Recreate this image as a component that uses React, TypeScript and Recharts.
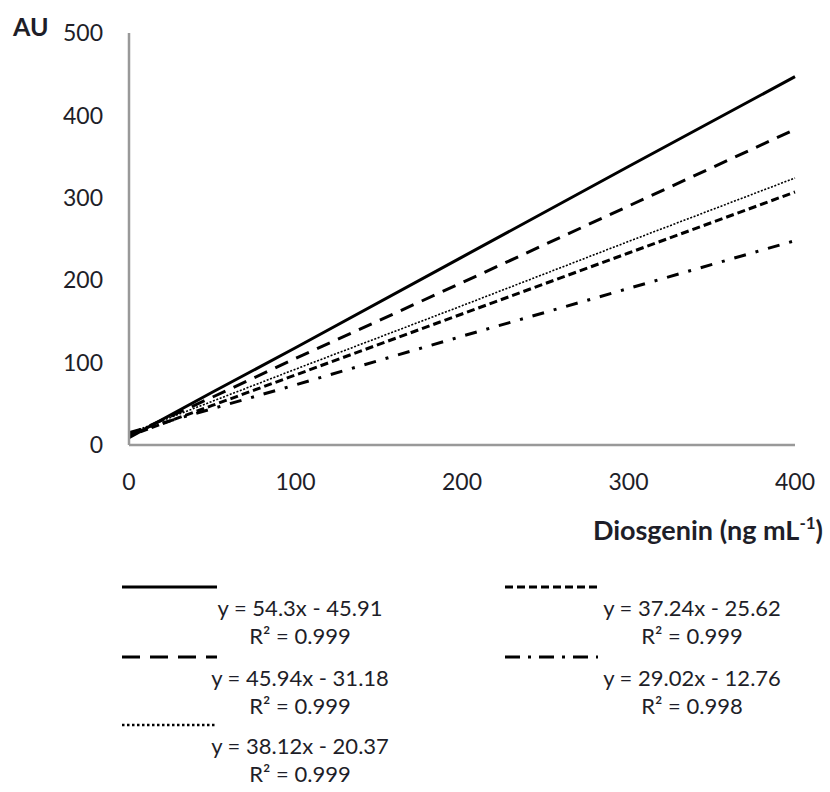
import React from "react";
import { LineChart, Line, XAxis, YAxis } from "recharts";

const xValues = [0, 50, 100, 200, 300, 400];
const seriesA = [9, 64, 118, 228, 338, 447];
const seriesB = [12, 58, 105, 197, 290, 383];
const seriesC = [14, 53, 92, 169, 247, 324];
const seriesD = [11, 48, 85, 159, 233, 307];
const seriesE = [15, 44, 73, 132, 190, 248];

const xTicks = [0, 100, 200, 300, 400];
const yTicks = [0, 100, 200, 300, 400, 500];

const yAxisTitle = "AU";
const xAxisTitle = "Diosgenin (ng mL";
const xAxisTitleSup = "-1";

const legendLeft = [
  { eq: "y = 54.3x - 45.91", r2: "R² = 0.999", dash: "" },
  { eq: "y = 45.94x - 31.18", r2: "R² = 0.999", dash: "18 10" },
  { eq: "y = 38.12x - 20.37", r2: "R² = 0.999", dash: "2.5 2.5" },
];
const legendRight = [
  { eq: "y = 37.24x - 25.62", r2: "R² = 0.999", dash: "8 4" },
  { eq: "y = 29.02x - 12.76", r2: "R² = 0.998", dash: "15 8 3 8" },
];

const data = xValues.map((x, i) => ({
  x,
  a: seriesA[i],
  b: seriesB[i],
  c: seriesC[i],
  d: seriesD[i],
  e: seriesE[i],
}));

const FONT = "Lato, 'Open Sans', sans-serif";
const TEXT = "#1e1e28";

export default function App() {
  const rowStarts = [587, 657, 725];
  const renderEntry = (
    item: { eq: string; r2: string; dash: string },
    i: number,
    lx1: number,
    lx2: number,
    cx: number
  ) => {
    const ly = rowStarts[i];
    return (
      <g key={item.eq}>
        <line
          x1={lx1}
          x2={lx2}
          y1={ly}
          y2={ly}
          stroke="#000"
          strokeWidth={item.dash === "2.5 2.5" ? 2.5 : 3}
          strokeDasharray={item.dash || undefined}
        />
        <text x={cx} y={ly + 29} textAnchor="middle" fontSize={22} fill={TEXT} fontFamily={FONT}>
          {item.eq}
        </text>
        <text x={cx} y={ly + 57} textAnchor="middle" fontSize={22} fill={TEXT} fontFamily={FONT}>
          {item.r2}
        </text>
      </g>
    );
  };

  return (
    <div style={{ position: "absolute", left: 0, top: 0, width: 830, height: 792, background: "#fff" }}>
      <LineChart
        width={830}
        height={792}
        data={data}
        margin={{ top: 33, right: 35, left: 49, bottom: 297 }}
      >
        <XAxis
          dataKey="x"
          type="number"
          domain={[0, 400]}
          ticks={xTicks}
          axisLine={{ stroke: "#999", strokeWidth: 2.5 }}
          tickLine={false}
          tickSize={0}
          tickMargin={29}
          height={50}
          tick={{ fill: TEXT, fontSize: 23, fontFamily: FONT }}
          interval={0}
        />
        <YAxis
          type="number"
          domain={[0, 500]}
          ticks={yTicks}
          axisLine={{ stroke: "#999", strokeWidth: 2.5 }}
          tickLine={false}
          tickSize={0}
          tickMargin={26}
          width={80}
          tick={{ fill: TEXT, fontSize: 23, fontFamily: FONT }}
          interval={0}
        />
        <Line dataKey="a" stroke="#000" strokeWidth={3} dot={false} isAnimationActive={false} />
        <Line dataKey="b" stroke="#000" strokeWidth={3} strokeDasharray="14 9" dot={false} isAnimationActive={false} />
        <Line dataKey="c" stroke="#000" strokeWidth={1.6} strokeDasharray="2 1.6" dot={false} isAnimationActive={false} />
        <Line dataKey="d" stroke="#000" strokeWidth={3} strokeDasharray="8 4" dot={false} isAnimationActive={false} />
        <Line dataKey="e" stroke="#000" strokeWidth={3} strokeDasharray="12 10 3 10" dot={false} isAnimationActive={false} />
      </LineChart>
      <svg
        width={830}
        height={792}
        style={{ position: "absolute", left: 0, top: 0, pointerEvents: "none" }}
      >
        <text x={13} y={36} fontSize={25} fontWeight="bold" fill={TEXT} fontFamily={FONT}>
          {yAxisTitle}
        </text>
        <text x={823} y={540} textAnchor="end" fontSize={27} fontWeight="bold" fill={TEXT} fontFamily={FONT}>
          {xAxisTitle}
          <tspan fontSize={17} dy={-11}>{xAxisTitleSup}</tspan>
          <tspan dy={11}>)</tspan>
        </text>
        {legendLeft.map((it, i) => renderEntry(it, i, 122, 217, 300))}
        {legendRight.map((it, i) => renderEntry(it, i, 505, 598, 692))}
      </svg>
    </div>
  );
}
